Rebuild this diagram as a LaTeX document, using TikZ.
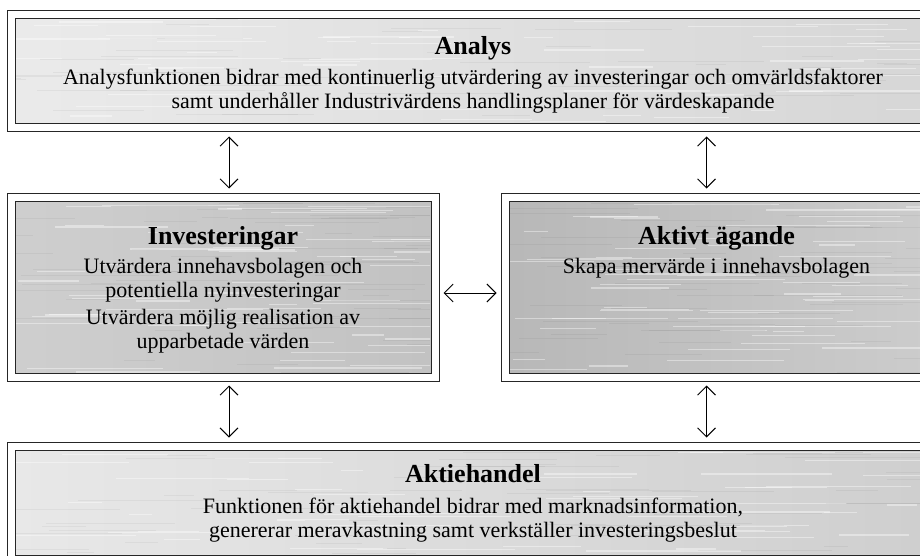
\documentclass[tikz,border=0pt]{standalone}
\usepackage{fontspec}
\setmainfont{Liberation Serif}
\usetikzlibrary{positioning,arrows.meta}

\tikzset{
    plate/.style={draw=black!85, double=white, double distance=7pt, line width=1pt, inner sep=0pt},
    wideplate/.style={plate, minimum width=924pt, minimum height=113pt},
    halfplate/.style={plate, minimum width=424pt, minimum height=180pt},
    lightstreak/.style={white, opacity=0.4, line width=1.2pt},
    darkstreak/.style={black, opacity=0.045, line width=1pt},
    heading/.style={font=\fontsize{26}{28}\selectfont\bfseries, inner sep=0pt},
    body/.style={font=\fontsize{22}{24}\selectfont, align=center, inner sep=0pt},
    link/.style={<->, line width=0.9pt, shorten <=8pt, shorten >=8pt}
}

\begin{document}
\begin{tikzpicture}[x=1pt, y=-1pt, >={Straight Barb[length=9pt, width=18pt]}]
        \useasboundingbox (0,0) rectangle (920,556);

        % Plates
        \node[wideplate, left color=black!8, middle color=black!11, right color=black!16] (analys) at (473,71.5) {};
        \node[halfplate, left color=black!19, middle color=black!21, right color=black!24] (invest) at (223,287) {};
        \node[halfplate, minimum width=423pt, left color=black!28, middle color=black!25, right color=black!20] (aktivt) at (716.5,287) {};
        \node[wideplate, left color=black!9, middle color=black!12, right color=black!19] (handel) at (473,502.5) {};

        % Brushed look
        \pgfmathsetseed{42}
        \foreach \b/\w/\h in {analys/924/113, invest/424/180, aktivt/423/180, handel/924/113} {
            \begin{scope}[shift={(\b.center)}]
                \clip (-\w/2+5,-\h/2+5) rectangle (\w/2-5,\h/2-5);
                \foreach \i in {1,...,60} {
                    \pgfmathsetmacro\sx{(rnd-0.55)*\w}
                    \pgfmathsetmacro\sy{(rnd-0.5)*\h}
                    \pgfmathsetmacro\sl{20+rnd*140}
                    \draw[lightstreak] (\sx,\sy) -- ++(\sl,0);
                    \pgfmathsetmacro\sx{(rnd-0.55)*\w}
                    \pgfmathsetmacro\sy{(rnd-0.5)*\h}
                    \draw[darkstreak] (\sx,\sy) -- ++(\sl,0);
                }
            \end{scope}
        }

        % Analys
        \node[heading, below=21.5pt of analys.north] (analysHead) {Analys};
        \node[body, below=8.5pt of analysHead] (analysText)
            {Analysfunktionen bidrar med kontinuerlig utvärdering av investeringar och omvärldsfaktorer\\
             samt underhåller Industrivärdens handlingsplaner för värdeskapande};

        % Investeringar
        \node[heading, below=29.5pt of invest.north] (investHead) {Investeringar};
        \node[body, below=7.5pt of investHead] (investText1)
            {Utvärdera innehavsbolagen och\\ potentiella nyinvesteringar};
        \node[body, below=7pt of investText1] (investText2)
            {Utvärdera möjlig realisation av\\ upparbetade värden};

        % Aktivt agande
        \node[heading, below=29.5pt of aktivt.north] (aktivtHead) {Aktivt ägande};
        \node[body, below=7.5pt of aktivtHead] (aktivtText) {Skapa mervärde i innehavsbolagen};

        % Aktiehandel
        \node[heading, below=19pt of handel.north] (handelHead) {Aktiehandel};
        \node[body, below=15pt of handelHead] (handelText)
            {Funktionen för aktiehandel bidrar med marknadsinformation,\\
             genererar meravkastning samt verkställer investeringsbeslut};

        % Links between the functions
        \draw[link] ([xshift=6pt]invest.north) -- ([xshift=6pt]invest.north |- analys.south);
        \draw[link] ([xshift=-10pt]aktivt.north) -- ([xshift=-10pt]aktivt.north |- analys.south);
        \draw[link] ([xshift=6pt]invest.south) -- ([xshift=6pt]invest.south |- handel.north);
        \draw[link] ([xshift=-10pt]aktivt.south) -- ([xshift=-10pt]aktivt.south |- handel.north);
        \draw[link] ([yshift=-6pt]invest.east) -- ([yshift=-6pt]aktivt.west);
    \end{tikzpicture}
\end{document}
